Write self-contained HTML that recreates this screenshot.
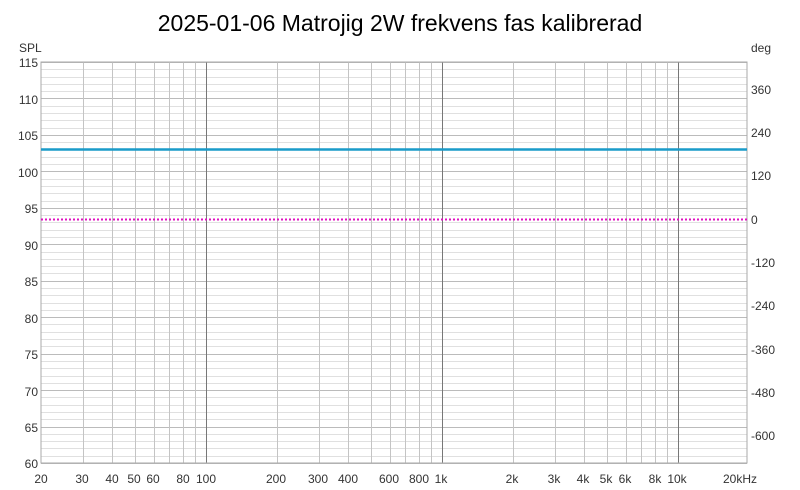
<!DOCTYPE html>
<html><head><meta charset="utf-8"><style>
html,body{margin:0;padding:0;background:#fff;}
svg{display:block;font-family:"Segoe UI","Liberation Sans",sans-serif;}
</style></head><body>
<svg id="s" width="800" height="490" viewBox="0 0 800 490" xmlns="http://www.w3.org/2000/svg">
<rect width="800" height="490" fill="#fff"/>
<g id="grid"></g>
<rect x="41" y="62" width="706" height="401" fill="none" stroke="#aaa" stroke-width="1"/>
<line x1="41" y1="149.5" x2="747" y2="149.5" stroke="#1a9bc9" stroke-width="2.5"/>
<line x1="41" y1="219.5" x2="747" y2="219.5" stroke="#e010c0" stroke-width="2" stroke-dasharray="2,2"/>
<text x="400" y="31" text-anchor="middle" font-size="23" fill="#000">2025-01-06 Matrojig 2W frekvens fas kalibrerad</text>
<g font-size="12" fill="#333" text-anchor="end">
<text x="19" y="52" text-anchor="start">SPL</text>
<text x="38" y="67">115</text><text x="38" y="104">110</text><text x="38" y="140">105</text>
<text x="38" y="177">100</text><text x="38" y="213">95</text><text x="38" y="250">90</text>
<text x="38" y="286">85</text><text x="38" y="323">80</text><text x="38" y="359">75</text>
<text x="38" y="396">70</text><text x="38" y="432">65</text><text x="38" y="468">60</text>
</g>
<g font-size="12" fill="#333" text-anchor="start">
<text x="751" y="52">deg</text>
<text x="751" y="94">360</text><text x="751" y="137">240</text><text x="751" y="180">120</text>
<text x="751" y="224">0</text><text x="751" y="267">-120</text><text x="751" y="310">-240</text>
<text x="751" y="354">-360</text><text x="751" y="397">-480</text><text x="751" y="440">-600</text>
</g>
<g font-size="12" fill="#333" text-anchor="middle">
<text x="41" y="483">20</text><text x="82" y="483">30</text><text x="112" y="483">40</text>
<text x="134" y="483">50</text><text x="153" y="483">60</text><text x="183" y="483">80</text>
<text x="206" y="483">100</text><text x="276" y="483">200</text><text x="318" y="483">300</text>
<text x="348" y="483">400</text><text x="389" y="483">600</text><text x="419" y="483">800</text>
<text x="441" y="483">1k</text><text x="512" y="483">2k</text><text x="554" y="483">3k</text>
<text x="583" y="483">4k</text><text x="606" y="483">5k</text><text x="625" y="483">6k</text>
<text x="655" y="483">8k</text><text x="677" y="483">10k</text><text x="740" y="483">20kHz</text>
</g>
</svg>
<script>
var g=document.getElementById('grid'),ns='http://www.w3.org/2000/svg';
function L(x1,y1,x2,y2,c){var l=document.createElementNS(ns,'line');l.setAttribute('x1',x1);l.setAttribute('y1',y1);l.setAttribute('x2',x2);l.setAttribute('y2',y2);l.setAttribute('stroke',c);l.setAttribute('stroke-width',1);g.appendChild(l);}
for(var d=0;d<=55;d++){var y=Math.round(62+d*401/55)+0.5;L(41,y,747,y,d%5==0?'#bbb':'#e0e0e0');}
var pos=function(f){return 41+236*Math.log10(f/20);};
[30,40,50,60,70,80,90,100,200,300,400,500,600,700,800,900,1000,2000,3000,4000,5000,6000,7000,8000,9000,10000].forEach(function(f){var x=Math.round(pos(f))+0.5;var dec=(f==100||f==1000||f==10000);L(x,62,x,463,dec?'#777':'#c4c4c4');});
</script>
</body></html>
